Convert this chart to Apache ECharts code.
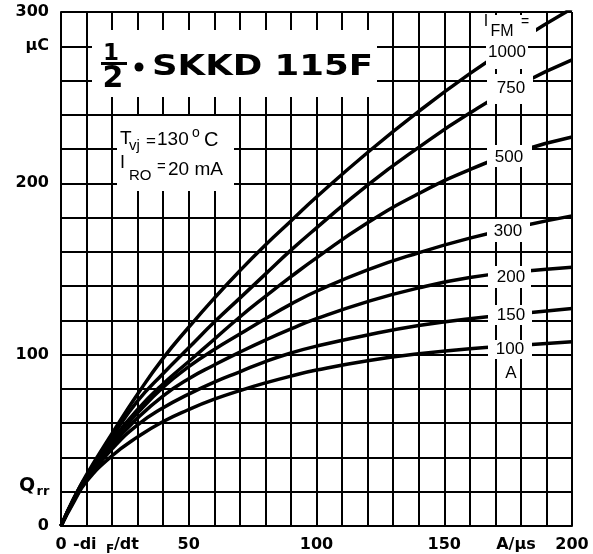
<!DOCTYPE html>
<html>
<head>
<meta charset="utf-8">
<script src="https://cdn.jsdelivr.net/npm/echarts@6/dist/echarts.min.js"></script>
<style>
    html, body { margin: 0; padding: 0; background: #ffffff; }
    #chart { width: 593px; height: 554px; }
</style>
</head>
<body>
<div id="chart"></div>
<script>
// -di/dt in A/us
var diDt = [0, 5, 10, 20, 30, 40, 50, 60, 70, 80, 90, 100, 120, 140, 160, 180, 200];

// Qrr in uC, one list per forward current IFM
var qrr1000 = [0, 16, 30, 54, 77, 98, 116, 133, 149, 164, 178, 192, 218, 242, 264, 284, 302];
var qrr750 = [0, 16, 29, 52, 73, 89, 104, 119, 133, 147, 161, 174, 199, 221, 241, 258, 272];
var qrr500 = [0, 16, 29, 50, 68, 83, 96, 109, 122, 134, 145.5, 156.5, 177, 194, 208, 219, 227];
var qrr300 = [0, 15, 28, 49, 66, 81, 93, 103, 112, 121, 129.5, 137, 149.5, 159.5, 168, 175, 181];
var qrr200 = [0, 15, 27, 47, 63, 76, 86, 94, 101.5, 108.5, 115, 121, 131, 139, 145, 148.5, 151];
var qrr150 = [0, 15, 27, 45, 59, 69, 77, 84, 90, 96, 101, 105, 111.5, 117, 121, 124, 127];
var qrr100 = [0, 14, 26, 41, 52, 61, 68, 74, 79, 83.5, 87.5, 91, 96.5, 100.5, 103.5, 105.5, 107.5];

var currentNames = ['1000', '750', '500', '300', '200', '150', '100'];
var currentCurves = [qrr1000, qrr750, qrr500, qrr300, qrr200, qrr150, qrr100];

var xTickLabels = [0, 50, 100, 150, 200];
var yTickLabels = [0, 100, 200, 300];

function pairs(xs, ys) {
    var out = [];
    for (var i = 0; i < xs.length; i++) {
        out.push([xs[i], ys[i]]);
    }
    return out;
}

var dom = document.getElementById("chart");
var myChart = echarts.init(dom);

var axisFont = 'DejaVu Sans';
var textFont = 'Liberation Sans';

var seriesList = currentCurves.map(function (curve, i) {
    return {
        name: currentNames[i],
        type: 'line',
        smooth: 0.5,
        showSymbol: false,
        symbol: 'none',
        silent: true,
        z: 3,
        lineStyle: { color: '#000000', width: 3.5 },
        data: pairs(diDt, curve)
    };
});

function whiteBox(x, y, w, h) {
    return { type: 'rect', z: 50, silent: true, shape: { x: x, y: y, width: w, height: h }, style: { fill: '#ffffff' } };
}

function txt(text, x, y, size, opts) {
    opts = opts || {};
    return {
        type: 'text', z: 60, silent: true, x: x, y: y,
        scaleX: opts.scaleX || 1,
        style: {
            text: text,
            fill: '#000000',
            font: (opts.weight || 'normal') + ' ' + size + 'px "' + (opts.family || textFont) + '"',
            textAlign: opts.align || 'center',
            textVerticalAlign: 'middle'
        }
    };
}

var option = {
    backgroundColor: '#ffffff',
    animation: false,
    grid: { left: 61, right: 21, top: 12, bottom: 28, containLabel: false },
    xAxis: {
        type: 'value',
        min: 0,
        max: 200,
        interval: 10,
        axisLine: { show: true, lineStyle: { color: '#000000', width: 2 } },
        axisTick: { show: false },
        splitLine: { show: true, lineStyle: { color: '#000000', width: 2 } },
        axisLabel: {
            margin: 11,
            color: '#000000',
            fontFamily: axisFont,
            fontWeight: 'bold',
            fontSize: 16,
            formatter: function (v) {
                return xTickLabels.indexOf(v) >= 0 ? String(v) : '';
            }
        }
    },
    yAxis: {
        type: 'value',
        min: 0,
        max: 300,
        interval: 20,
        axisLine: { show: true, lineStyle: { color: '#000000', width: 2 } },
        axisTick: { show: false },
        splitLine: { show: true, lineStyle: { color: '#000000', width: 2 } },
        axisLabel: {
            margin: 12,
            color: '#000000',
            fontFamily: axisFont,
            fontWeight: 'bold',
            fontSize: 16,
            formatter: function (v) {
                if (yTickLabels.indexOf(v) >= 0) return String(v);
                if (v === 280) return 'μC';
                return '';
            }
        }
    },
    series: seriesList,
    graphic: [
        // title block
        whiteBox(92, 30, 285, 67),
        txt('1', 111, 54, 23, { weight: 'bold', family: axisFont }),
        { type: 'rect', z: 60, silent: true, shape: { x: 101, y: 62, width: 26, height: 3 }, style: { fill: '#000000' } },
        txt('2', 113, 79, 30, { weight: 'bold', family: axisFont }),
        { type: 'circle', z: 60, silent: true, shape: { cx: 139, cy: 67, r: 4.5 }, style: { fill: '#000000' } },
        txt('SKKD 115F', 152, 68, 28, { weight: 'bold', align: 'left', scaleX: 1.27, family: axisFont }),

        // conditions
        whiteBox(117, 116, 117, 75),
        txt('T', 120, 139, 19, { align: 'left' }),
        txt('vj', 129, 146, 15, { align: 'left' }),
        txt('=', 146, 141, 17, { align: 'left' }),
        txt('130', 157, 140, 19, { align: 'left' }),
        txt('o', 192, 133, 14, { align: 'left' }),
        txt('C', 204, 140, 20, { align: 'left' }),
        txt('I', 120, 163, 18, { align: 'left' }),
        txt('RO', 129, 176, 15, { align: 'left' }),
        txt('=', 157, 167, 15, { align: 'left' }),
        txt('20 mA', 168, 170, 19, { align: 'left' }),

        // curve labels on the right
        whiteBox(486, 15, 42, 54),
        whiteBox(486, 15, 50, 24),
        txt('I', 486, 22, 16),
        txt('FM', 502, 32, 16),
        txt('=', 525, 22, 14),
        txt('1000', 507, 52, 17),
        whiteBox(487, 74, 46, 30),
        txt('750', 511, 88, 17),
        whiteBox(487, 145, 45, 22),
        txt('500', 509, 157, 17),
        whiteBox(487, 219, 43, 23),
        txt('300', 508, 231, 17),
        whiteBox(488, 266, 43, 22),
        txt('200', 511, 277, 17),
        whiteBox(488, 305, 44, 20),
        txt('150', 511, 315, 17),
        whiteBox(488, 340, 44, 19),
        txt('100', 510, 349, 17),
        whiteBox(502, 364, 18, 18),
        txt('A', 511, 373, 17),

        // axis names
        txt('Q', 27, 486, 19, { weight: 'bold', family: axisFont }),
        txt('rr', 43, 492, 13, { weight: 'bold', family: axisFont }),
        txt('-di', 73, 545, 16, { weight: 'bold', align: 'left', family: axisFont }),
        txt('F', 106, 550, 12, { weight: 'bold', align: 'left', family: axisFont }),
        txt('/dt', 114, 545, 16, { weight: 'bold', align: 'left', family: axisFont }),
        txt('A/μs', 516, 545, 16, { weight: 'bold', family: axisFont })
    ]
};

if (option && typeof option === "object") {
    myChart.setOption(option, true);
}
</script>
</body>
</html>
